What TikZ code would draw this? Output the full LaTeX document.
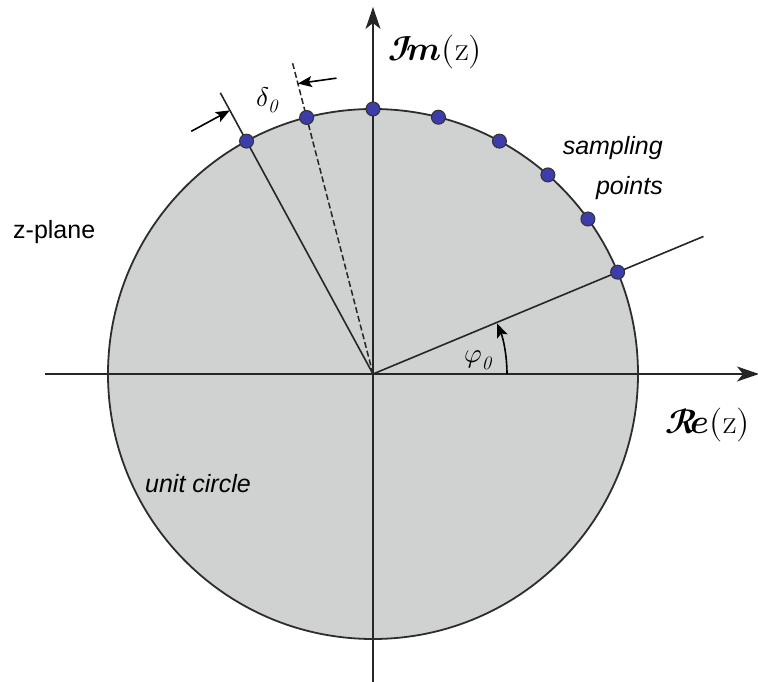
\documentclass[tikz,border=0pt]{standalone}
\usepackage{fontspec}
\usepackage{unicode-math}
\setmathfont{Latin Modern Math}
\newfontfamily\labelfont{Liberation Sans}
\usetikzlibrary{arrows.meta,calc}
\definecolor{discfill}{RGB}{208,209,209}
\definecolor{dotblue}{RGB}{60,60,170}
\definecolor{edgegray}{RGB}{45,45,45}
\tikzset{
  axisline/.style={line width=1.6pt, draw=black!85, -{Stealth[length=22pt,width=15pt,inset=6pt]}},
  rayline/.style={line width=1.6pt, draw=black!85},
  dashray/.style={line width=1.5pt, draw=black!85, dashed, dash pattern=on 6pt off 3pt},
  dimarrow/.style={line width=1.6pt, draw=black, -{Stealth[length=14pt,width=11pt,inset=3pt]}},
  sampledot/.style={circle, fill=dotblue, draw=black!80, line width=1pt, minimum size=14pt, inner sep=0pt},
  lbl/.style={font=\labelfont\fontsize{25}{30}\selectfont, inner sep=0pt},
  mlbl/.style={font=\fontsize{27}{30}\selectfont, inner sep=0pt},
  axlbl/.style={font=\fontsize{34}{38}\selectfont, inner sep=0pt}
}
\begin{document}
\begin{tikzpicture}[x=1pt,y=1pt]
\useasboundingbox (-373,-308) rectangle (385,374);
\coordinate (O) at (0,0);
\fill[discfill] (O) circle (265);
% axes
\coordinate (xl) at (-328,0);
\coordinate (xr) at (386,0);
\coordinate (yb) at (0,-308);
\coordinate (yt) at (0,367);
\draw[axisline] (xl) -- (xr);
\draw[axisline] (yb) -- (yt);
\draw[line width=1.8pt, draw=edgegray] (O) circle (265);
% rays
\coordinate (r0) at (22.6:358);
\coordinate (r7) at (118.5:320);
\coordinate (r6) at (104.5:322);
\draw[rayline] (O) -- (r0);
\draw[rayline] (O) -- (r7);
\draw[dashray] (O) -- (r6);
% angle arc
\coordinate (a0) at (134,0);
\draw[dimarrow] (a0) arc[start angle=0, end angle=22.2, radius=134];
% delta arrows
\coordinate (d1e) at (118.5:300);
\coordinate (d1s) at ($(d1e)+(208.5:44)$);
\draw[dimarrow] (d1s) -- (d1e);
\coordinate (d2e) at (104.5:300);
\coordinate (d2s) at ($(d2e)+(8:39)$);
\draw[dimarrow] (d2s) -- (d2e);
% sampling dots
\foreach \a [count=\i from 0] in {22.6,35.8,48.7,61.5,75.7,90,104.5,118.5}{
  \node[sampledot] (p\i) at (\a:265) {};
}
% labels
\node[mlbl] (dl) at (-106,274) {$\delta_{\mathit{0}}$};
\node[mlbl] (fl) at (105,14) {$\varphi_{\mathit{0}}$};
\node[axlbl, anchor=west] (iml) at (15,322) {$\mathbfscr{I}\!\symbfit{m}(\mathup{z})$};
\node[axlbl, anchor=west] (rel) at (292,-51) {$\mathbfscr{R}\!\symbfit{e}(\mathup{z})$};
\node[lbl, anchor=west] (zp) at (-360,142) {z-plane};
\node[lbl, anchor=west] (uc) at (-228,-110) {\itshape unit circle};
\node[lbl, anchor=east, align=right] (sp) at (290,206) {\itshape sampling\\[10pt]\itshape points};
\end{tikzpicture}
\end{document}
